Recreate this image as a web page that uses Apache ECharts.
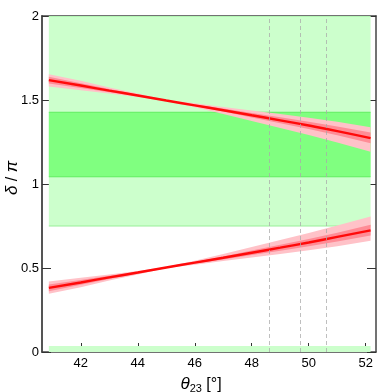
<!DOCTYPE html>
<html>
<head>
<meta charset="utf-8">
<script src="https://cdn.jsdelivr.net/npm/echarts@6/dist/echarts.min.js"></script>
<style>html,body{margin:0;padding:0;background:#fff}#c{width:382px;height:392px}</style>
</head>
<body>
<div id="c"></div>
<script>
// ---- data ----
const theta = [40.88, 42, 43, 44, 45, 46, 47, 48, 49, 50, 51, 52.17];

const upperCenter  = [1.618, 1.586, 1.556, 1.527, 1.497, 1.468, 1.439, 1.409, 1.379, 1.348, 1.315, 1.273];
const upperOuterHi = [1.654, 1.614, 1.575, 1.538, 1.500, 1.480, 1.459, 1.438, 1.417, 1.394, 1.370, 1.338];
const upperOuterLo = [1.580, 1.558, 1.538, 1.518, 1.494, 1.457, 1.416, 1.375, 1.334, 1.291, 1.247, 1.192];
const upperInnerHi = [1.638, 1.600, 1.566, 1.532, 1.498, 1.473, 1.449, 1.423, 1.398, 1.371, 1.343, 1.306];
const upperInnerLo = [1.598, 1.572, 1.546, 1.522, 1.496, 1.464, 1.431, 1.396, 1.362, 1.327, 1.290, 1.243];

const lowerCenter  = [0.382, 0.414, 0.444, 0.473, 0.503, 0.532, 0.561, 0.591, 0.621, 0.652, 0.685, 0.724];
const lowerOuterHi = [0.420, 0.442, 0.462, 0.482, 0.506, 0.543, 0.584, 0.625, 0.666, 0.709, 0.753, 0.806];
const lowerOuterLo = [0.346, 0.386, 0.425, 0.462, 0.500, 0.520, 0.541, 0.562, 0.583, 0.606, 0.630, 0.662];
const lowerInnerHi = [0.402, 0.428, 0.454, 0.478, 0.504, 0.536, 0.569, 0.604, 0.638, 0.673, 0.710, 0.757];
const lowerInnerLo = [0.362, 0.400, 0.434, 0.468, 0.502, 0.527, 0.551, 0.577, 0.602, 0.629, 0.657, 0.694];

// green allowed regions: [xFrom, xTo, yFrom, yTo]
const lightRegion  = [40.88, 52.17, 0.75, 2.0];
const darkRegion   = [40.88, 52.17, 1.043, 1.427];
const bottomStrip  = [40.88, 52.17, 0.0, 0.035];

const dashedTheta = [48.6, 49.7, 50.6];

const xTicks = [42, 44, 46, 48, 50, 52];
const xMin = 40.64, xMax = 52.36;
const yMin = 0, yMax = 2, yStep = 0.5;

// ---- chart ----
function rectRender(r, fill, edge) {
  return function (params, api) {
    const p0 = api.coord([r[0], r[3]]);
    const p1 = api.coord([r[1], r[2]]);
    const children = [{
      type: 'rect',
      shape: { x: p0[0], y: p0[1], width: p1[0] - p0[0], height: p1[1] - p0[1] },
      style: { fill: fill }
    }];
    if (edge) {
      children.push({ type: 'line', shape: { x1: p0[0], y1: p0[1], x2: p1[0], y2: p0[1] }, style: { stroke: edge, lineWidth: 1 } });
      children.push({ type: 'line', shape: { x1: p0[0], y1: p1[1], x2: p1[0], y2: p1[1] }, style: { stroke: edge, lineWidth: 1 } });
    }
    return { type: 'group', children: children };
  };
}
function bandRender(hi, lo, fill) {
  return function (params, api) {
    const pts = [];
    for (let i = 0; i < theta.length; i++) pts.push(api.coord([theta[i], hi[i]]));
    for (let i = theta.length - 1; i >= 0; i--) pts.push(api.coord([theta[i], lo[i]]));
    return { type: 'polygon', shape: { points: pts }, style: { fill: fill } };
  };
}
function custom(render, z) {
  return { type: 'custom', renderItem: render, data: [[theta[1], 1]], z: z, silent: true, clip: true };
}
function pairs(ys) { return theta.map((t, i) => [t, ys[i]]); }

const axisLineStyle = { color: '#444', width: 1.5 };
const tickStyle = { color: '#333', width: 1 };

const chart = echarts.init(document.getElementById('c'), null, { renderer: 'canvas' });
chart.setOption({
  animation: false,
  textStyle: { fontFamily: 'Liberation Sans, Arial, sans-serif' },
  grid: { left: 42, right: 6, top: 16, bottom: 40, containLabel: false, outerBoundsMode: 'none' },
  xAxis: [{
    type: 'value', min: xMin, max: xMax, position: 'bottom',
    axisLine: { show: true, onZero: false, lineStyle: axisLineStyle },
    axisTick: { show: true, inside: true, length: 9, lineStyle: tickStyle, customValues: xTicks },
    axisLabel: { show: true, fontSize: 13, color: '#000', margin: 5, customValues: xTicks },
    splitLine: { show: false },
    name: '{i|θ}{s|23} [°]',
    nameLocation: 'middle', nameGap: 23,
    nameTextStyle: {
      fontSize: 16, color: '#000', padding: [0, 16, 0, 0],
      rich: {
        i: { fontSize: 17, fontStyle: 'italic', color: '#000' },
        s: { fontSize: 11, color: '#000', padding: [8, 0, 0, 0] }
      }
    }
  }, {
    type: 'value', min: xMin, max: xMax, position: 'top',
    axisLine: { show: true, onZero: false, lineStyle: axisLineStyle },
    axisTick: { show: true, inside: true, length: 9, lineStyle: tickStyle, customValues: xTicks },
    axisLabel: { show: false },
    splitLine: { show: false }
  }],
  yAxis: [{
    type: 'value', min: yMin, max: yMax, interval: yStep, position: 'left',
    axisLine: { show: true, onZero: false, lineStyle: { color: '#555', width: 2 } },
    axisTick: { show: true, inside: true, length: 9, lineStyle: tickStyle },
    axisLabel: { fontSize: 13, color: '#000', margin: 3 },
    splitLine: { show: false },
    name: '{i|δ} / {i|π}',
    nameLocation: 'middle', nameGap: 21, nameMoveOverlap: false,
    nameTextStyle: {
      fontSize: 16, color: '#000', padding: [0, 0, 0, 12],
      rich: { i: { fontSize: 17, fontStyle: 'italic', color: '#000' } }
    }
  }, {
    type: 'value', min: yMin, max: yMax, interval: yStep, position: 'right',
    axisLine: { show: true, onZero: false, lineStyle: axisLineStyle },
    axisTick: { show: true, inside: true, length: 9, lineStyle: tickStyle },
    axisLabel: { show: false },
    splitLine: { show: false }
  }],
  series: [
    custom(rectRender(lightRegion, '#ccffcc', '#99ee99'), 1),
    custom(rectRender(darkRegion, '#80ff80', '#60ee60'), 1),
    custom(rectRender(bottomStrip, '#ccffcc', null), 1),
    custom(bandRender(upperOuterHi, upperOuterLo, '#ffc2c8'), 2),
    custom(bandRender(lowerOuterHi, lowerOuterLo, '#ffc2c8'), 2),
    custom(bandRender(upperInnerHi, upperInnerLo, '#ff8c96'), 3),
    custom(bandRender(lowerInnerHi, lowerInnerLo, '#ff8c96'), 3),
    { type: 'line', data: pairs(upperCenter), showSymbol: false, smooth: true, z: 4, silent: true,
      lineStyle: { color: '#ff0a0a', width: 2.4 } },
    { type: 'line', data: pairs(lowerCenter), showSymbol: false, smooth: true, z: 4, silent: true,
      lineStyle: { color: '#ff0a0a', width: 2.4 } },
    { type: 'line', data: [], z: 5, silent: true,
      markLine: {
        silent: true, symbol: 'none', label: { show: false },
        lineStyle: { type: [4, 3], color: 'rgba(170,170,170,0.75)', width: 1 },
        data: dashedTheta.map(x => ({ xAxis: x }))
      } }
  ]
});
</script>
</body>
</html>
